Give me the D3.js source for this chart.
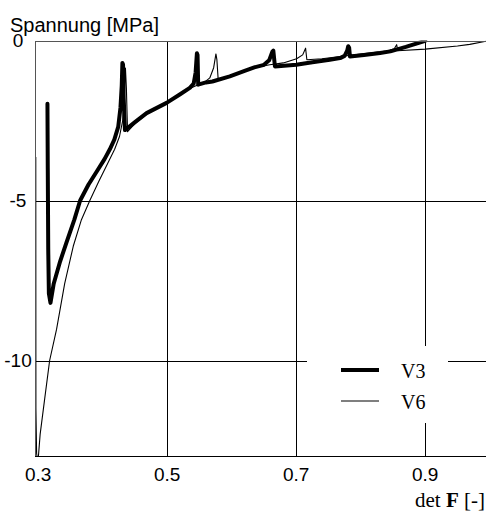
<!DOCTYPE html>
<html>
<head>
<meta charset="utf-8">
<script src="https://cdn.jsdelivr.net/npm/d3@7"></script>
<style>
  html, body { margin: 0; padding: 0; background: #fff; }
  svg { display: block; }
</style>
</head>
<body>
<svg id="chart" width="486" height="512"></svg>
<script>
// ---- data ----
const xTicks = [0.3, 0.5, 0.7, 0.9];
const xTickLabels = ["0.3", "0.5", "0.7", "0.9"];
const yTicks = [0, -5, -10];
const yTickLabels = ["0", "-5", "-10"];
const xGrid = [0.5, 0.7, 0.9];
const yGrid = [-5, -10];
const seriesNames = ["V3", "V6"];

const v3x = [0.3143, 0.3148, 0.3155, 0.3165, 0.3190, 0.3240, 0.3340, 0.3440, 0.3560, 0.3650, 0.3780, 0.3905, 0.4030, 0.4110, 0.4180, 0.4240, 0.4275, 0.4295, 0.4305, 0.4315, 0.4325, 0.4345,
  0.4500, 0.4680, 0.4990, 0.5200, 0.5350, 0.5410, 0.5440, 0.5460, 0.5470, 0.5480,
  0.5600, 0.5700, 0.5970, 0.6200, 0.6350, 0.6500, 0.6580, 0.6630, 0.6645, 0.6670,
  0.7000, 0.7250, 0.7520, 0.7680, 0.7750, 0.7790, 0.7806, 0.7820, 0.7833,
  0.8050, 0.8300, 0.8460, 0.8700, 0.9000];
const v3y = [-1.98, -4.0, -6.5, -7.9, -8.2, -7.6, -6.9, -6.3, -5.6, -5.0, -4.5, -4.1, -3.7, -3.4, -3.1, -2.7, -2.1, -1.4, -0.7, -0.75, -1.8, -2.8,
  -2.55, -2.27, -1.95, -1.68, -1.48, -1.35, -1.0, -0.4, -0.45, -1.38,
  -1.31, -1.28, -1.12, -0.95, -0.84, -0.76, -0.62, -0.35, -0.32, -0.81,
  -0.76, -0.68, -0.60, -0.55, -0.48, -0.32, -0.18, -0.22, -0.50,
  -0.45, -0.39, -0.34, -0.20, -0.01];

const v6x = [0.2962, 0.2964, 0.2975, 0.2995, 0.3030, 0.3100, 0.3177, 0.3284, 0.3410, 0.3543, 0.3670, 0.3800, 0.3940, 0.4080, 0.4185, 0.4260, 0.4310, 0.4335, 0.4352, 0.4367, 0.4385,
  0.4500, 0.4680, 0.4990, 0.5350, 0.5480, 0.5580, 0.5660, 0.5720, 0.5755, 0.5770, 0.5790,
  0.5970, 0.6350, 0.6590, 0.6800, 0.7006, 0.7100, 0.7145, 0.7165,
  0.7400, 0.7680, 0.8000, 0.8400, 0.8520, 0.8557, 0.8575,
  0.9000, 0.9500, 0.9690, 0.9950];
const v6y = [-3.64, -11.5, -12.9, -13.2, -12.3, -11.2, -10.0, -9.03, -7.6, -6.43, -5.6, -5.0, -4.4, -3.83, -3.4, -3.0, -2.5, -1.8, -0.86, -1.5, -2.85,
  -2.6, -2.3, -1.97, -1.5, -1.38, -1.30, -1.17, -0.85, -0.42, -0.6, -1.22,
  -1.12, -0.85, -0.76, -0.70, -0.57, -0.45, -0.24, -0.60,
  -0.57, -0.50, -0.42, -0.33, -0.26, -0.13, -0.32,
  -0.27, -0.17, -0.12, -0.02];

// ---- layout ----
const W = 486, H = 512;
const pL = 35, pR = 486.5, pT = 40.5, pB = 456.5;

const svg = d3.select("#chart");
const x = d3.scaleLinear().domain([0.295, 0.995]).range([pL, pR]);
const y = d3.scaleLinear().domain([-13, 0]).range([pB, pT]);

svg.append("rect").attr("width", W).attr("height", H).attr("fill", "#fff");

svg.append("defs").append("clipPath").attr("id", "plotclip")
  .append("rect").attr("x", pL).attr("y", pT).attr("width", pR - pL).attr("height", pB - pT);

// gridlines
const grid = svg.append("g").attr("stroke", "#000").attr("stroke-width", 1).attr("shape-rendering", "crispEdges");
grid.selectAll("line.vx").data(xGrid).join("line")
  .attr("x1", d => Math.round(x(d)) + 0.5).attr("x2", d => Math.round(x(d)) + 0.5)
  .attr("y1", pT).attr("y2", pB);
grid.selectAll("line.hy").data(yGrid).join("line")
  .attr("x1", pL).attr("x2", W)
  .attr("y1", d => Math.round(y(d)) + 0.5).attr("y2", d => Math.round(y(d)) + 0.5);

// curves
const line = d3.line().x(d => x(d[0])).y(d => y(d[1])).curve(d3.curveLinear);
const v3 = v3x.map((d, i) => [d, v3y[i]]);
const v6 = v6x.map((d, i) => [d, v6y[i]]);
const curves = svg.append("g").attr("clip-path", "url(#plotclip)");
curves.append("path").datum(v6).attr("d", line)
  .attr("fill", "none").attr("stroke", "#000").attr("stroke-width", 1.1)
  .attr("stroke-linejoin", "round");
curves.append("path").datum(v3).attr("d", line)
  .attr("fill", "none").attr("stroke", "#000").attr("stroke-width", 4)
  .attr("stroke-linejoin", "round").attr("stroke-linecap", "round");

// frame
svg.append("line").attr("x1", pL + 0.5).attr("x2", pL + 0.5).attr("y1", pT).attr("y2", pB)
  .attr("stroke", "#555").attr("stroke-width", 1).attr("shape-rendering", "crispEdges");
svg.append("line").attr("x1", pL).attr("x2", W).attr("y1", pT + 0.5).attr("y2", pT + 0.5)
  .attr("stroke", "#555").attr("stroke-width", 1).attr("shape-rendering", "crispEdges");
svg.append("line").attr("x1", pL).attr("x2", W).attr("y1", pB).attr("y2", pB)
  .attr("stroke", "#000").attr("stroke-width", 1.2).attr("shape-rendering", "crispEdges");

// legend
const lg = svg.append("g");
lg.append("rect").attr("x", 307).attr("y", 346).attr("width", 141).attr("height", 77).attr("fill", "#fff");
const lgRows = [{name: seriesNames[0], w: 4, yy: 370}, {name: seriesNames[1], w: 1.1, yy: 401}];
lg.selectAll("line").data(lgRows).join("line")
  .attr("x1", 341).attr("x2", 379).attr("y1", d => d.yy).attr("y2", d => d.yy)
  .attr("stroke", "#000").attr("stroke-width", d => d.w);
lg.selectAll("text").data(lgRows).join("text")
  .attr("x", 401).attr("y", d => d.yy + 8)
  .attr("font-family", "'Liberation Serif', serif").attr("font-size", 20)
  .text(d => d.name);

// tick labels
const sans = "'Liberation Sans', Arial, sans-serif";
svg.append("g").selectAll("text").data(xTicks).join("text")
  .attr("x", d => x(d)).attr("y", 481)
  .attr("text-anchor", "middle").attr("font-family", sans).attr("font-size", 19)
  .text((d, i) => xTickLabels[i]);
svg.append("g").selectAll("text").data(yTicks).join("text")
  .attr("x", 18).attr("y", d => y(d) + 6.5)
  .attr("text-anchor", "middle").attr("font-family", sans).attr("font-size", 19)
  .text((d, i) => yTickLabels[i]);

// titles
svg.append("text").attr("x", 10).attr("y", 32)
  .attr("font-family", sans).attr("font-size", 20).text("Spannung [MPa]");

const xl = svg.append("text").attr("x", 485).attr("y", 507).attr("text-anchor", "end")
  .attr("font-family", "'Liberation Serif', serif").attr("font-size", 21);
xl.append("tspan").text("det ");
xl.append("tspan").attr("font-weight", "bold").text("F");
xl.append("tspan").text(" [-]");
</script>
</body>
</html>
